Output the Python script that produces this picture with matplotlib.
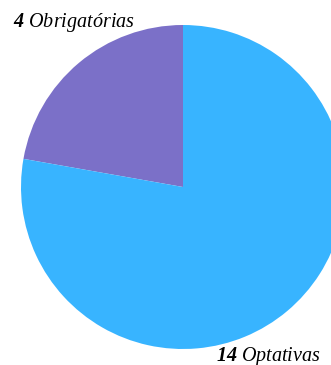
import matplotlib.pyplot as plt

# disciplinas por tipo
labels = ['Obrigatórias', 'Optativas']
values = [4, 14]
colors = ['#7b70c8', '#38b4ff']

plt.rcParams['mathtext.fontset'] = 'custom'
plt.rcParams['mathtext.bf'] = 'Liberation Serif:italic:bold'
plt.rcParams['mathtext.rm'] = 'Liberation Serif:italic'

fig = plt.figure(figsize=(3.31, 3.65), dpi=100)
ax = fig.add_axes([0, 0, 1, 1])

# pie drawn in pixel-like coordinates so it can overflow the right edge
ax.pie(values, colors=colors, startangle=90, counterclock=True,
       center=(183, 178), radius=162, frame=True,
       wedgeprops=dict(linewidth=0))
ax.set_xlim(0, 331)
ax.set_ylim(0, 365)
ax.set_aspect('equal')
ax.axis('off')

label_pos = [(13, 338), (216, 4)]
for lab, v, (x, y) in zip(labels, values, label_pos):
    ax.text(x, y, r'$\mathbf{%d}$ %s' % (v, lab), fontsize=14.5,
            family='Liberation Serif', style='italic',
            ha='left', va='baseline')

fig.savefig('out.png')
